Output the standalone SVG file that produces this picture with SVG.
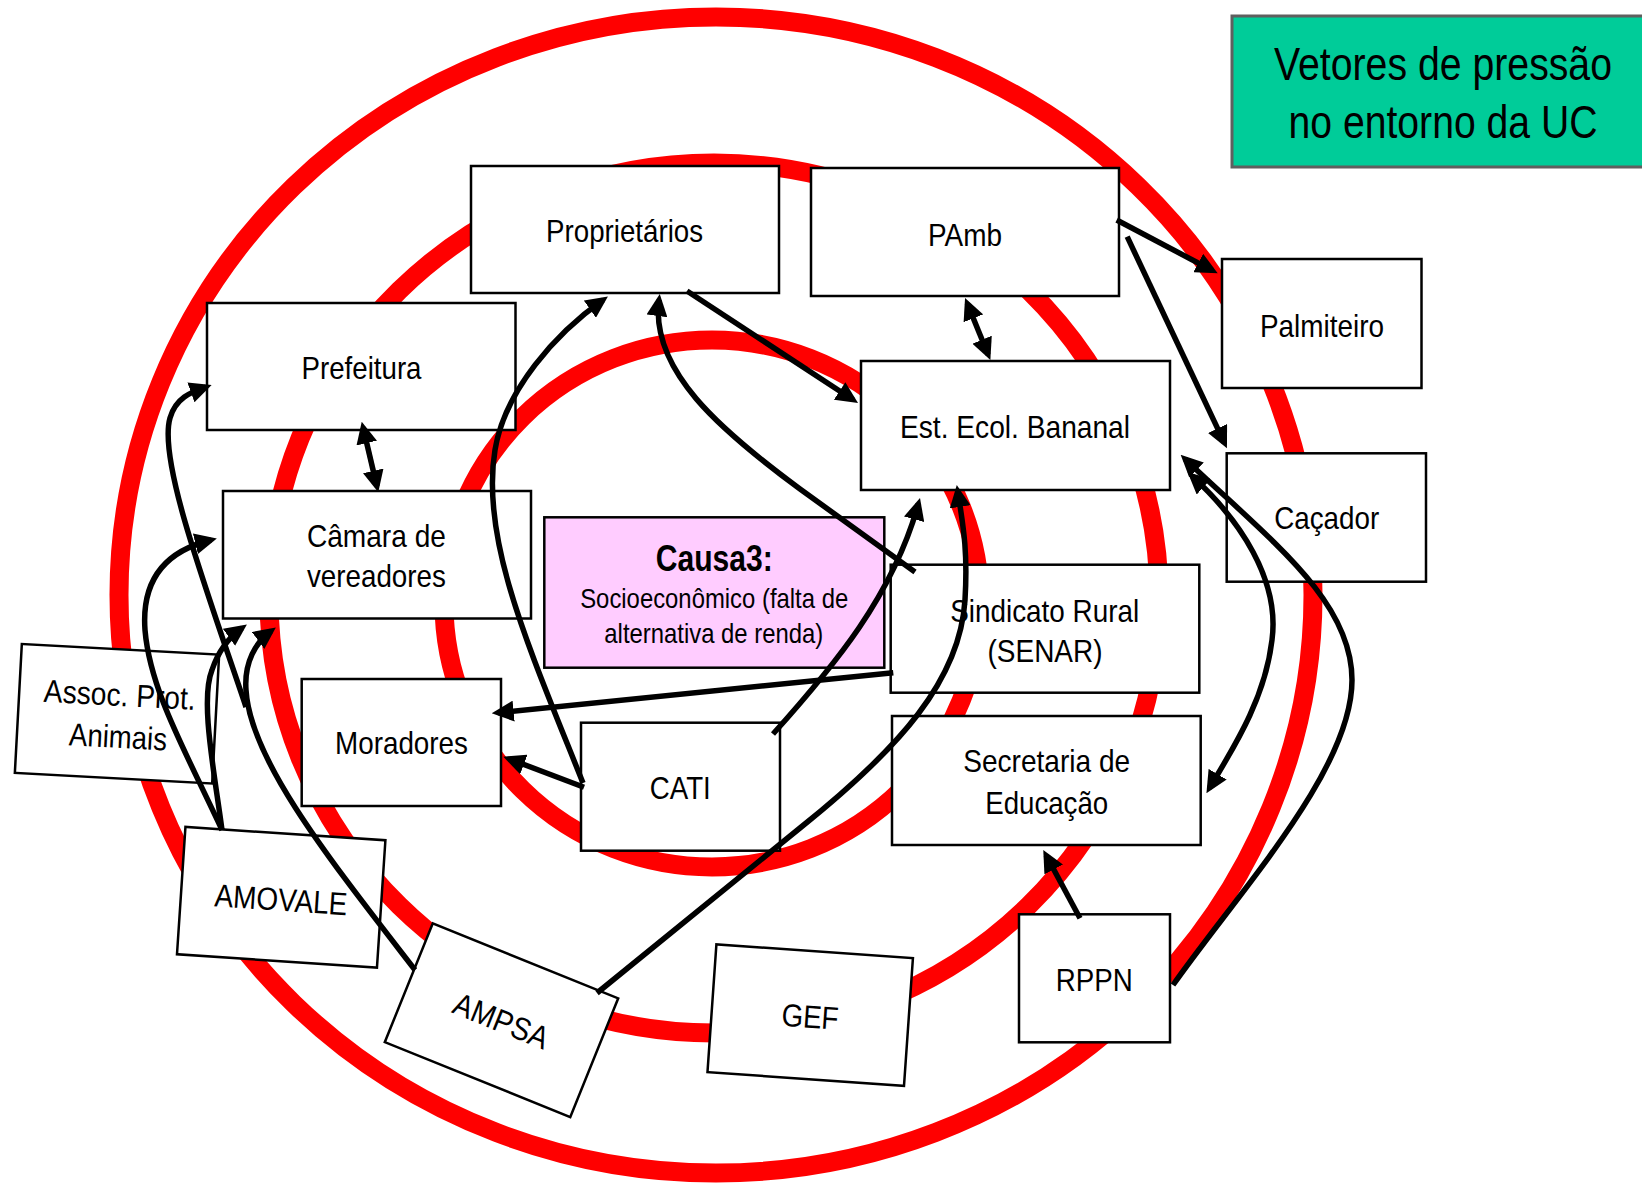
<svg xmlns="http://www.w3.org/2000/svg" width="1642" height="1184" viewBox="0 0 1642 1184">
<style>
.ring{fill:none;stroke:#FF0000;stroke-width:19}
.box{fill:#FFFFFF;stroke:#000000;stroke-width:2.5}
.t{font-family:"Liberation Sans",Arial,sans-serif;font-size:32px;fill:#000000;text-anchor:middle}
.c path{fill:none;stroke:#000000;stroke-width:5.5}
.e{marker-end:url(#ah)}
.b{marker-start:url(#ah);marker-end:url(#ah)}
</style>
<defs>
<marker id="ah" viewBox="0 0 22 21" markerWidth="22" markerHeight="21" refX="16" refY="10.5" orient="auto-start-reverse" markerUnits="userSpaceOnUse">
<path d="M0,0 L22,10.5 L0,21 z" fill="#000000"/>
</marker>
</defs>
<rect x="0" y="0" width="1642" height="1184" fill="#FFFFFF"/>
<g id="rings">
<ellipse class="ring" cx="716" cy="595" rx="597" ry="578"/>
<ellipse class="ring" cx="714" cy="598" rx="445" ry="435"/>
<ellipse class="ring" cx="712" cy="603.5" rx="268" ry="263.5"/>
</g>
<g id="title">
<rect x="1232" y="16" width="410" height="151" fill="#00CC99"/>
<path d="M1642,16 H1232 V167 H1642" fill="none" stroke="#5F5F5F" stroke-width="3"/>
<text class="t" x="1443" y="80" style="font-size:46px" textLength="338" lengthAdjust="spacingAndGlyphs">Vetores de pressão</text>
<text class="t" x="1443" y="138" style="font-size:46px" textLength="309" lengthAdjust="spacingAndGlyphs">no entorno da UC</text>
</g>
<g id="n-proprietarios">
<rect class="box" x="471" y="166" width="308" height="127"/>
<text class="t" x="624.6" y="241.7" textLength="157" lengthAdjust="spacingAndGlyphs">Proprietários</text>
</g>
<g id="n-pamb">
<rect class="box" x="811" y="168" width="308" height="128"/>
<text class="t" x="965" y="245.7" textLength="74" lengthAdjust="spacingAndGlyphs">PAmb</text>
</g>
<g id="n-prefeitura">
<rect class="box" x="207" y="303" width="308.5" height="127"/>
<text class="t" x="361.5" y="379.3" textLength="120" lengthAdjust="spacingAndGlyphs">Prefeitura</text>
</g>
<g id="n-camara">
<rect class="box" x="223" y="491" width="308" height="127.5"/>
<text class="t" x="376.4" y="547" textLength="139" lengthAdjust="spacingAndGlyphs">Câmara de</text>
<text class="t" x="376.4" y="587" textLength="139" lengthAdjust="spacingAndGlyphs">vereadores</text>
</g>
<g id="n-estecol">
<rect class="box" x="861" y="361" width="309" height="129"/>
<text class="t" x="1015" y="438.3" textLength="230" lengthAdjust="spacingAndGlyphs">Est. Ecol. Bananal</text>
</g>
<g id="n-palmiteiro">
<rect class="box" x="1222" y="259" width="199.5" height="129"/>
<text class="t" x="1322" y="336.7" textLength="124" lengthAdjust="spacingAndGlyphs">Palmiteiro</text>
</g>
<g id="n-cacador">
<rect class="box" x="1226.7" y="453.3" width="199.3" height="128.4"/>
<text class="t" x="1326.7" y="529.3" textLength="105" lengthAdjust="spacingAndGlyphs">Caçador</text>
</g>
<g id="n-causa3">
<rect x="544.3" y="517.3" width="340" height="150.4" fill="#FFCCFF" stroke="#000000" stroke-width="2.5"/>
<text class="t" x="714.3" y="570.7" style="font-size:36px;font-weight:bold" textLength="117" lengthAdjust="spacingAndGlyphs">Causa3:</text>
<text class="t" x="714.2" y="608.3" style="font-size:28px" textLength="268" lengthAdjust="spacingAndGlyphs">Socioeconômico (falta de</text>
<text class="t" x="713.8" y="642.7" style="font-size:28px" textLength="219" lengthAdjust="spacingAndGlyphs">alternativa de renda)</text>
</g>
<g id="n-sindicato">
<rect class="box" x="890.7" y="564.7" width="308.6" height="128"/>
<text class="t" x="1044.7" y="621.7" textLength="189" lengthAdjust="spacingAndGlyphs">Sindicato Rural</text>
<text class="t" x="1045" y="661.7" textLength="115" lengthAdjust="spacingAndGlyphs">(SENAR)</text>
</g>
<g id="n-secretaria">
<rect class="box" x="892" y="716" width="308.7" height="129"/>
<text class="t" x="1046.7" y="772.3" textLength="167" lengthAdjust="spacingAndGlyphs">Secretaria de</text>
<text class="t" x="1046.7" y="814.3" textLength="123" lengthAdjust="spacingAndGlyphs">Educação</text>
</g>
<g id="n-rppn">
<rect class="box" x="1019" y="914.3" width="151" height="128"/>
<text class="t" x="1094.3" y="991" textLength="77" lengthAdjust="spacingAndGlyphs">RPPN</text>
</g>
<g id="n-cati">
<rect class="box" x="581" y="722.7" width="199" height="128"/>
<text class="t" x="680.3" y="799" textLength="61" lengthAdjust="spacingAndGlyphs">CATI</text>
</g>
<g id="n-moradores">
<rect class="box" x="301.7" y="679" width="199.3" height="127"/>
<text class="t" x="401.5" y="754.3" textLength="133" lengthAdjust="spacingAndGlyphs">Moradores</text>
</g>
<g id="n-assoc" transform="translate(117,713.75) rotate(3.1)">
<rect class="box" x="-98.8" y="-64.5" width="197.6" height="129"/>
<text class="t" x="1.8" y="-8" textLength="152" lengthAdjust="spacingAndGlyphs">Assoc. Prot.</text>
<text class="t" x="2.3" y="34" textLength="98" lengthAdjust="spacingAndGlyphs">Animais</text>
</g>
<g id="n-amovale" transform="translate(281.2,897.25) rotate(3.8)">
<rect class="box" x="-100.2" y="-63.8" width="200.4" height="127.6"/>
<text class="t" x="0" y="13.5" textLength="133" lengthAdjust="spacingAndGlyphs">AMOVALE</text>
</g>
<g id="n-ampsa" transform="translate(501.5,1020.25) rotate(22)">
<rect class="box" x="-100" y="-64" width="200" height="128"/>
<text class="t" x="0" y="11.7" textLength="100" lengthAdjust="spacingAndGlyphs">AMPSA</text>
</g>
<g id="n-gef" transform="translate(810.2,1015.1) rotate(4)">
<rect class="box" x="-98.5" y="-64" width="197" height="128"/>
<text class="t" x="0" y="12.7" textLength="57" lengthAdjust="spacingAndGlyphs">GEF</text>
</g>
<g id="connectors" class="c">
<path class="e" d="M687,291 L853,399.7"/>
<path class="b" d="M967.3,303.5 L988.1,354.5"/>
<path class="e" d="M1116.7,220 L1212.4,270.5"/>
<path class="e" d="M1127.2,236.7 L1224.4,442.9"/>
<path class="b" d="M363.1,427.5 L376.9,486.5"/>
<path class="e" d="M915,572 L800,489 C720,430 650,370 659,300"/>
<path class="e" d="M583,783 C530,650 480,540 495,450 C505,390 556,333 603,300"/>
<path class="e" d="M584,787.3 L508.9,758.8"/>
<path class="e" d="M893.3,672.7 L497.7,712.7"/>
<path class="e" d="M773,734 C835,665 893,595 918.4,503.8"/>
<path class="e" d="M597,993 L800,828 C900,748 960,680 965,600 C968,550 963,525 957.7,491"/>
<path class="e" d="M415,970 C330,860 250,760 246,690 C244,662 256,642 271,631"/>
<path class="e" d="M222,830 C214,770 200,700 212,670 C218,652 228,638 242,628"/>
<path class="e" d="M222,830 C185,750 150,690 145,630 C141,575 170,550 211,540"/>
<path class="e" d="M246,707 C205,585 158,460 170,418 C176,397 192,392 206,387"/>
<path class="e" d="M1173,985 C1240,890 1352,770 1352,680 C1352,600 1270,540 1185,459"/>
<path class="b" d="M1192,476 C1240,520 1280,580 1272,640 C1265,700 1232,750 1209.5,788"/>
<path class="e" d="M1080,918.3 L1046.1,855.3"/>
</g>
</svg>
